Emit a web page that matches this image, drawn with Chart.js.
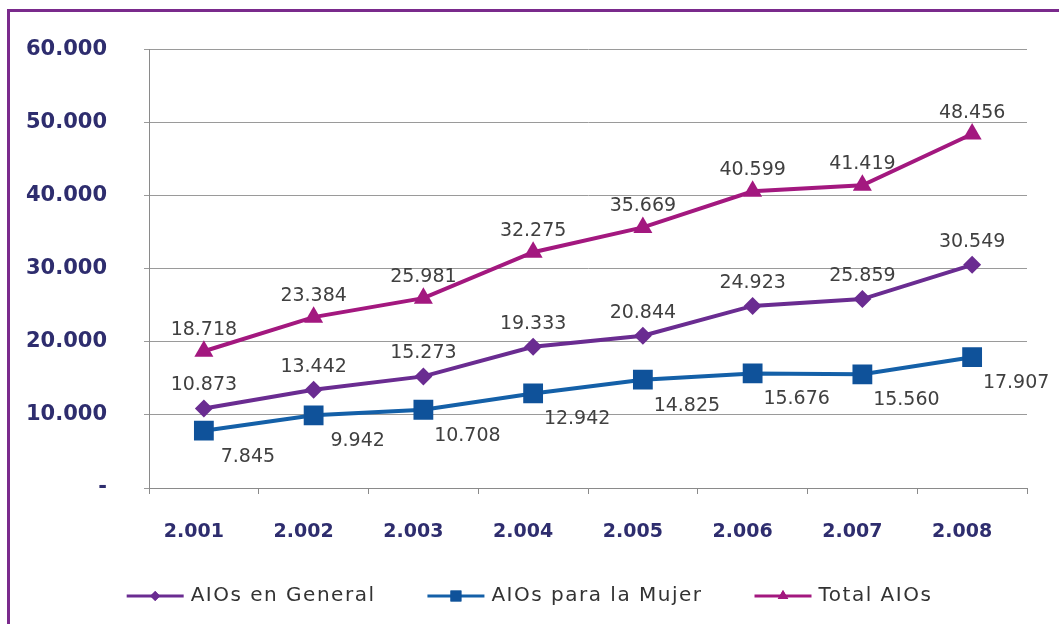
<!DOCTYPE html>
<html>
<head>
<meta charset="utf-8">
<script src="https://cdn.jsdelivr.net/npm/chart.js@4/dist/chart.umd.min.js"></script>
<style>
  html, body { margin: 0; padding: 0; background: #fff; overflow: hidden; }
  #frame { position: absolute; left: 7px; top: 9px; right: 0; bottom: 0;
           border-top: 3px solid #7a2a8c; border-left: 3px solid #7a2a8c; }
  #wrap { position: absolute; left: 0; top: 0; width: 1059px; height: 624px; }
</style>
</head>
<body>
<div id="frame"></div>
<div id="wrap"><canvas id="chart" width="1059" height="624"></canvas></div>
<script>
  const years = ['2.001', '2.002', '2.003', '2.004', '2.005', '2.006', '2.007', '2.008'];
  const aiosGeneral = [10873, 13442, 15273, 19333, 20844, 24923, 25859, 30549];
  const aiosMujer = [7845, 9942, 10708, 12942, 14825, 15676, 15560, 17907];
  const totalAios = [18718, 23384, 25981, 32275, 35669, 40599, 41419, 48456];
  const yMax = 60000;
  const yStep = 10000;

  const fmt = v => v === 0 ? '-' : String(v).replace(/\B(?=(\d{3})+(?!\d))/g, '.');

  const labelFont = '19px "DejaVu Sans"';
  const textColor = '#404040';
  const tickColor = '#2e2d6e';

  // offsets of the value labels, per series
  const labelPos = [
    { dx: 0, dy: -23 },
    { dx: 44, dy: 26 },
    { dx: 0, dy: -21 }
  ];

  const valueLabels = {
    id: 'valueLabels',
    afterDatasetsDraw(chart) {
      const ctx = chart.ctx;
      ctx.save();
      ctx.font = labelFont;
      ctx.fillStyle = textColor;
      ctx.textAlign = 'center';
      ctx.textBaseline = 'middle';
      chart.data.datasets.forEach((ds, i) => {
        chart.getDatasetMeta(i).data.forEach((pt, j) => {
          ctx.fillText(fmt(ds.data[j]), pt.x + labelPos[i].dx, pt.y + labelPos[i].dy);
        });
      });
      ctx.restore();
    }
  };

  const lineLegend = {
    id: 'lineLegend',
    afterDraw(chart) {
      const ctx = chart.ctx;
      const y = 596, lineLen = 57, gapText = 7, gapItem = 52;
      ctx.save();
      ctx.font = '20px "DejaVu Sans"';
      ctx.letterSpacing = '1.5px';
      const items = chart.data.datasets.map(ds => ({ ds, w: ctx.measureText(ds.label).width }));
      let total = items.reduce((s, it) => s + lineLen + gapText + it.w, 0) + gapItem * (items.length - 1);
      let x = (chart.width - total) / 2;
      items.forEach(it => {
        const ds = it.ds;
        ctx.strokeStyle = ds.borderColor;
        ctx.lineWidth = 3;
        ctx.beginPath();
        ctx.moveTo(x, y);
        ctx.lineTo(x + lineLen, y);
        ctx.stroke();
        ctx.fillStyle = ds.backgroundColor;
        Chart.helpers.drawPoint(ctx, { pointStyle: ds.pointStyle, radius: ds.pointRadius * 0.55, borderWidth: 0 }, x + lineLen / 2, y);
        ctx.fill();
        ctx.fillStyle = '#333';
        ctx.textAlign = 'left';
        ctx.textBaseline = 'middle';
        ctx.fillText(ds.label, x + lineLen + gapText, y);
        x += lineLen + gapText + it.w + gapItem;
      });
      ctx.restore();
    }
  };

  new Chart(document.getElementById('chart'), {
    type: 'line',
    data: {
      labels: years,
      datasets: [
        {
          label: 'AIOs en General',
          data: aiosGeneral,
          borderColor: '#6a2c91',
          backgroundColor: '#6a2c91',
          borderWidth: 4,
          pointStyle: 'rectRot',
          pointRadius: 9,
          pointBorderWidth: 0
        },
        {
          label: 'AIOs para la Mujer',
          data: aiosMujer,
          borderColor: '#1460a8',
          backgroundColor: '#0f529a',
          borderWidth: 4,
          pointStyle: 'rect',
          pointRadius: 14,
          pointBorderWidth: 0
        },
        {
          label: 'Total AIOs',
          data: totalAios,
          borderColor: '#a3187f',
          backgroundColor: '#a3187f',
          borderWidth: 4,
          pointStyle: 'triangle',
          pointRadius: 11,
          pointBorderWidth: 0
        }
      ]
    },
    options: {
      responsive: false,
      animation: false,
      layout: { padding: { top: 45, right: 32, bottom: 0, left: 0 } },
      plugins: {
        legend: { display: false },
        tooltip: { enabled: false }
      },
      scales: {
        x: {
          offset: true,
          afterFit: axis => { axis.height = 136; },
          grid: { display: true, drawOnChartArea: false, offset: true, tickLength: 6, color: '#8a8a8a' },
          border: { color: '#8a8a8a', width: 1 },
          ticks: { color: tickColor, font: { family: 'DejaVu Sans', size: 19, weight: 'bold' },
                   padding: 27, labelOffset: -10 }
        },
        y: {
          min: 0,
          max: yMax,
          afterFit: axis => { axis.width = 149; },
          ticks: { stepSize: yStep, callback: v => fmt(v), color: tickColor,
                   font: { family: 'DejaVu Sans', size: 21, weight: 'bold' }, padding: 37 },
          grid: { color: '#9a9a9a', lineWidth: 1, tickLength: 5 },
          border: { color: '#8a8a8a', width: 1 }
        }
      }
    },
    plugins: [valueLabels, lineLegend]
  });
</script>
</body>
</html>
